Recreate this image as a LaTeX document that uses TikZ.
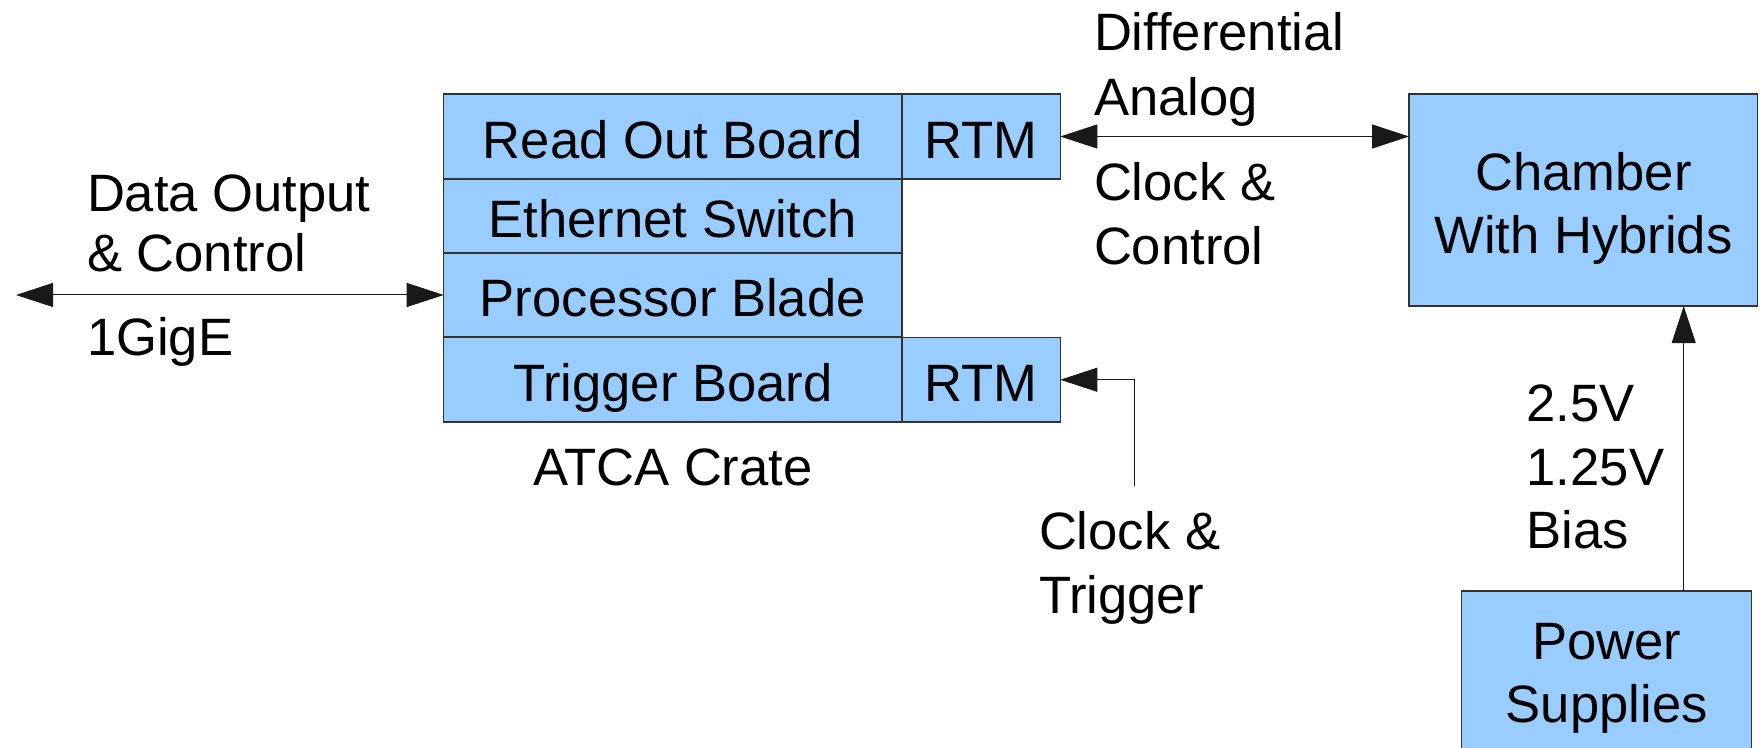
\documentclass[tikz,border=0pt]{standalone}
\usepackage{fontspec}
\setmainfont{Liberation Sans}
\usetikzlibrary{arrows.meta}
\definecolor{boxfill}{HTML}{99CCFF}
\definecolor{boxline}{HTML}{333333}
\begin{document}
\begin{tikzpicture}[x=0.5pt,y=-0.5pt,
  every node/.style={font=\fontsize{26.3pt}{31.5pt}\selectfont, inner sep=0pt, outer sep=0pt},
  blk/.style={draw=boxline, line width=0.65pt, fill=boxfill, text height=21.75pt, text depth=0pt},
  bigblk/.style={draw=boxline, line width=0.65pt, fill=boxfill, align=center, text depth=0pt},
  lbl/.style={anchor=base west},
  arr/.style={draw=black!90, line width=0.5pt, -{Triangle[length=18.5pt,width=12pt]}},
  darr/.style={draw=black!90, line width=0.5pt, {Triangle[length=18.5pt,width=12pt]}-{Triangle[length=18.5pt,width=12pt]}}
]
\useasboundingbox (0,0) rectangle (1760,748);

% ATCA crate
\node[blk, minimum width=229.15pt, minimum height=42.5pt] (rob) at (672.85,136.5) {Read Out Board};
\node[blk, minimum width=229.15pt, minimum height=37pt] (eth) at (672.85,216) {Ethernet Switch};
\node[blk, minimum width=229.15pt, minimum height=42pt] (proc) at (672.85,295) {Processor Blade};
\node[blk, minimum width=229.15pt, minimum height=42.25pt] (trig) at (672.85,379.75) {Trigger Board};
\node[blk, minimum width=79.15pt, minimum height=42.5pt] (rtma) at (981.15,136.5) {RTM};
\node[blk, minimum width=79.15pt, minimum height=42.25pt] (rtmb) at (981.15,379.75) {RTM};
\node[anchor=base] (atca) at (672.85,485) {ATCA Crate};

% Chamber and power
\node[bigblk, text height=53.2pt, minimum width=174.35pt, minimum height=106pt] (chamber) at (1583.4,200.1) {Chamber\\With Hybrids};
\node[bigblk, minimum width=145pt, minimum height=82pt] (power) at (1606.7,673) {Power\\Supplies};

% Left connector
\coordinate (dl) at (16,295);
\draw[darr] (dl) -- (proc.west);
\node[lbl] (do1) at (87,212) {Data Output};
\node[lbl] (do2) at (87,272) {\& Control};
\node[lbl] (do3) at (87,356) {1GigE};

% Top connector
\draw[darr] (rtma.east) -- (rtma.east -| chamber.west);
\node[lbl] (da1) at (1094,51) {Differential};
\node[lbl] (da2) at (1094,116) {Analog};
\node[lbl] (cc1) at (1094,201) {Clock \&};
\node[lbl] (cc2) at (1094,265) {Control};

% Trigger connector
\coordinate (ct) at (1134.7,485.7);
\draw[arr] (ct) |- (rtmb.east);
\node[lbl] (ctr1) at (1039,549) {Clock \&};
\node[lbl] (ctr2) at (1039,613) {Trigger};

% Power connector
\coordinate (px) at (1683.7,600);
\draw[arr] (power.north -| px) -- (chamber.south -| px);
\node[lbl] (v1) at (1526.7,421.7) {2.5V};
\node[lbl] (v2) at (1526.7,485) {1.25V};
\node[lbl] (v3) at (1526.7,548) {Bias};
\end{tikzpicture}
\end{document}
